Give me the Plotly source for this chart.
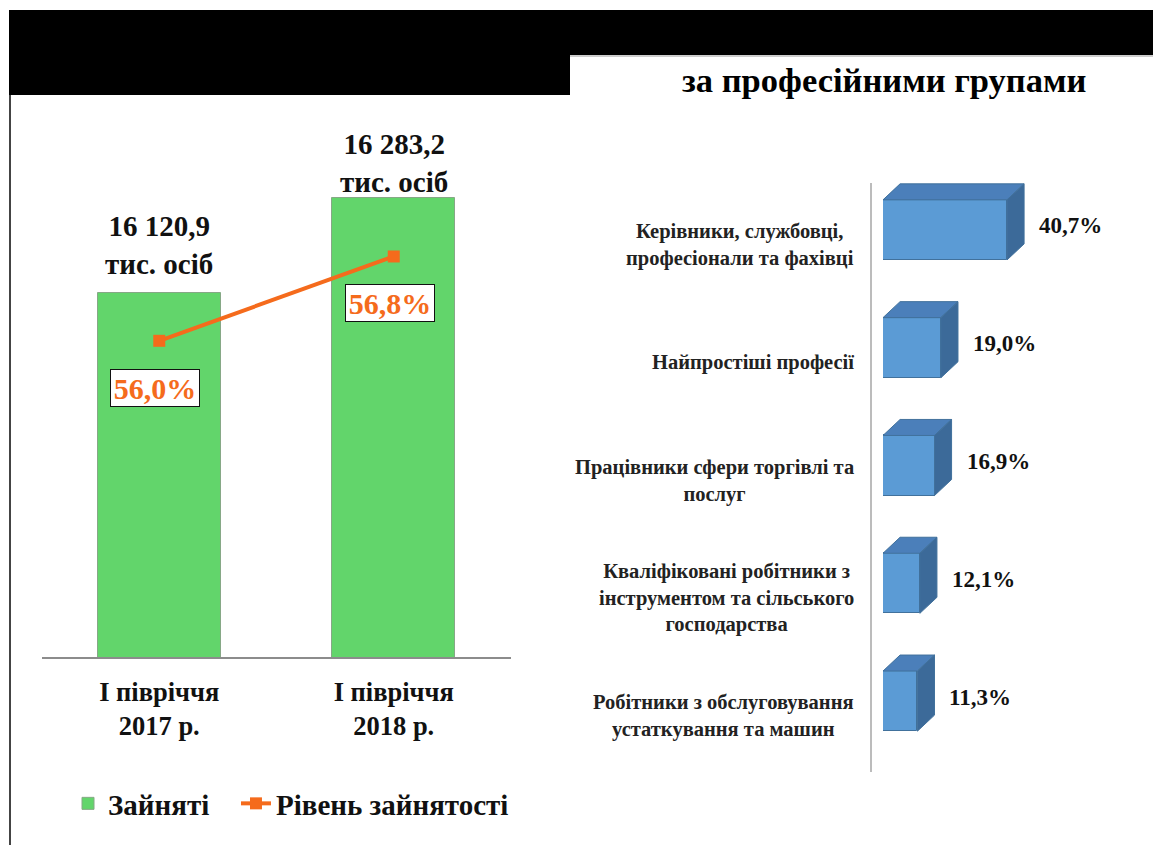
import plotly.graph_objects as go

# ---- data -------------------------------------------------------------
periods = ["І півріччя<br>2017 р.", "І півріччя<br>2018 р."]
employed = [16120.9, 16283.2]          # тис. осіб
employment_rate = [56.0, 56.8]         # %

groups = [
    "Керівники, службовці,<br>професіонали та фахівці",
    "Найпростіші професії",
    "Працівники сфери торгівлі та<br>послуг",
    "Кваліфіковані робітники з<br>інструментом та сільського<br>господарства",
    "Робітники з обслуговування<br>устаткування та машин",
]
group_share = [40.7, 19.0, 16.9, 12.1, 11.3]   # %

# ---- styling ----------------------------------------------------------
W, H = 1153, 845
SERIF = "Times New Roman"
GREEN = "#62D56B"
ORANGE = "#F56B1C"
BLUE_FRONT = "#5B9BD5"
BLUE_TOP = "#4B7FBA"
BLUE_SIDE = "#3C6A99"
BLUE_EDGE = "#41719C"


def px_x(p):
    return p / W


def px_y(p):
    return 1 - p / H


def bold(size, color="#111111"):
    return dict(family=SERIF, size=size, color=color, weight="bold")


fig = go.Figure()

# ---- left panel: employed (bars) + employment rate (line) -------------
fig.add_trace(go.Bar(
    x=[0, 1], y=employed, width=0.525, name="Зайняті\u00a0\u00a0\u00a0",
    marker=dict(color=GREEN, line=dict(color="#86a886", width=1)),
    xaxis="x", yaxis="y",
))
fig.add_trace(go.Scatter(
    x=[0, 1], y=employment_rate, name="Рівень зайнятості",
    mode="lines+markers",
    line=dict(color=ORANGE, width=4),
    marker=dict(symbol="square", size=12, color=ORANGE),
    xaxis="x", yaxis="y2",
))

annotations = []
label_gap = [11, -2]
for i, v in enumerate(employed):
    txt = f"{v:,.1f}".replace(",", " ").replace(".", ",")
    annotations.append(dict(
        x=i, y=v, xref="x", yref="y", yanchor="bottom", yshift=label_gap[i],
        text=f"{txt}<br>тис. осіб", showarrow=False, align="center",
        font=bold(29),
    ))
for i, r in enumerate(employment_rate):
    annotations.append(dict(
        x=i, y=r, xref="x", yref="y2", yshift=-47, xshift=-4,
        text=f"{r:.1f}%".replace(".", ","), showarrow=False,
        width=84, height=32, borderpad=2,
        bgcolor="white", bordercolor="#111111", borderwidth=1,
        font=bold(30, ORANGE),
    ))

# ---- right panel: professional groups as 3-D horizontal bars ----------
bar_w = 0.51
depth_x = 5.6     # extrusion depth along the value axis (%)
depth_y = 0.136   # extrusion depth along the category axis
pos = list(range(len(groups)))

fig.add_trace(go.Bar(
    x=group_share, y=pos, orientation="h", width=bar_w, showlegend=False,
    marker=dict(color=BLUE_FRONT, line=dict(color=BLUE_EDGE, width=1)),
    xaxis="x3", yaxis="y3", hoverinfo="skip",
))

top_x, top_y, side_x, side_y = [], [], [], []
for c, v in zip(pos, group_share):
    y_top = c - bar_w / 2
    y_bot = c + bar_w / 2
    top_x += [0, v, v + depth_x, depth_x, 0, None]
    top_y += [y_top, y_top, y_top - depth_y, y_top - depth_y, y_top, None]
    side_x += [v, v + depth_x, v + depth_x, v, v, None]
    side_y += [y_top, y_top - depth_y, y_bot - depth_y, y_bot, y_top, None]

for fx, fy, col in ((top_x, top_y, BLUE_TOP), (side_x, side_y, BLUE_SIDE)):
    fig.add_trace(go.Scatter(
        x=fx, y=fy, mode="lines", fill="toself", fillcolor=col,
        line=dict(color=BLUE_EDGE, width=1), showlegend=False,
        xaxis="x3", yaxis="y3", hoverinfo="skip",
    ))

for c, v, g in zip(pos, group_share, groups):
    annotations.append(dict(
        x=v, y=c, xref="x3", yref="y3", xanchor="left", xshift=30, yshift=4,
        text=f"{v:.1f}%".replace(".", ","), showarrow=False,
        font=bold(23),
    ))
    annotations.append(dict(
        x=px_x(856), y=c, xref="paper", yref="y3", xanchor="right",
        yshift=-15, align="center", text=g, showarrow=False,
        font=bold(20.5, "#222222"),
    ))

annotations.append(dict(
    x=px_x(884), y=px_y(80), xref="paper", yref="paper",
    xanchor="center", yanchor="middle",
    text="за професійними групами", showarrow=False,
    font=bold(34.5, "#000000"),
))

# ---- slide frame ------------------------------------------------------
shapes = [
    dict(type="rect", xref="paper", yref="paper", x0=px_x(9), x1=1,
         y0=px_y(55), y1=px_y(10), fillcolor="black", line=dict(width=0)),
    dict(type="rect", xref="paper", yref="paper", x0=px_x(9), x1=px_x(570),
         y0=px_y(95), y1=px_y(54), fillcolor="black", line=dict(width=0)),
    dict(type="line", xref="paper", yref="paper", x0=px_x(570), x1=1,
         y0=px_y(56), y1=px_y(56), line=dict(color="#9a9a9a", width=1)),
    dict(type="line", xref="paper", yref="paper", x0=px_x(10), x1=px_x(10),
         y0=px_y(95), y1=0, line=dict(color="#444444", width=2)),
    dict(type="line", xref="paper", yref="paper", x0=px_x(871), x1=px_x(871),
         y0=px_y(183), y1=px_y(772), line=dict(color="#a6a6a6", width=1.5)),
]

fig.update_layout(
    width=W, height=H, margin=dict(l=0, r=0, t=0, b=0),
    paper_bgcolor="white", plot_bgcolor="rgba(0,0,0,0)",
    font=dict(family=SERIF),
    bargap=0,
    xaxis=dict(domain=[px_x(42), px_x(511)], range=[-0.5, 1.5],
               tickvals=[0, 1], ticktext=periods, ticks="",
               ticklabelstandoff=10,
               showline=True, linecolor="#8c8c8c", linewidth=2,
               showgrid=False, zeroline=False, fixedrange=True,
               tickfont=bold(26.5)),
    yaxis=dict(domain=[px_y(657), px_y(130)], range=[15499, 16399.6],
               visible=False, fixedrange=True),
    yaxis2=dict(overlaying="y", range=[53, 58], visible=False, fixedrange=True),
    xaxis3=dict(domain=[px_x(883), 1.0], range=[0, 88.6], visible=False,
                anchor="y3", fixedrange=True),
    yaxis3=dict(domain=[px_y(760), px_y(171)], range=[4.5, -0.5],
                visible=False, anchor="x3", fixedrange=True),
    legend=dict(orientation="h", x=px_x(68), y=px_y(778), xanchor="left",
                yanchor="top", bgcolor="rgba(0,0,0,0)",
                font=bold(29)),
    annotations=annotations,
    shapes=shapes,
)

fig.write_html("out.html")
